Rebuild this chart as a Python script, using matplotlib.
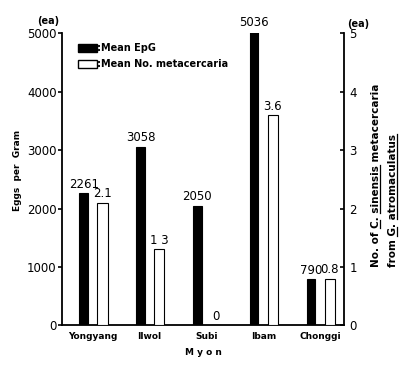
import matplotlib
matplotlib.use("Agg")
import matplotlib.pyplot as plt
from matplotlib.patches import Patch
from matplotlib.lines import Line2D

categories = ["Yongyang", "Ilwol", "Subi", "Ibam", "Chonggi"]
epg = [2261, 3058, 2050, 5036, 790]
meta = [2.1, 1.3, 0, 3.6, 0.8]
epg_labels = ["2261", "3058", "2050", "5036", "790"]
meta_labels = ["2.1", "1 3", "0", "3.6", "0.8"]
left_ticks = [0, 1000, 2000, 3000, 4000, 5000]
right_ticks = [0, 1, 2, 3, 4, 5]

plt.rcParams['font.family'] = ['DejaVu Sans']

fig = plt.figure(figsize=(4.17, 3.68), dpi=100)
ax = fig.add_axes([0.149, 0.1155, 0.676, 0.7945])
ax2 = ax.twinx()

x = list(range(len(categories)))
xb = [i - 0.16 for i in x]
xw = [i + 0.17 for i in x]

ax.bar(xb, epg, width=0.15, color='black', edgecolor='black', linewidth=0.8, zorder=3)
ax2.bar(xw, meta, width=0.18, color='white', edgecolor='black', linewidth=0.8, zorder=3)

for xi, v, s in zip(xb, epg, epg_labels):
    ax.text(xi, v + 40, s, ha='center', va='bottom', fontsize=8.5)
for xi, v, s in zip(xw, meta, meta_labels):
    ax2.text(xi, v + 0.04, s, ha='center', va='bottom', fontsize=8.5)

ax.set_xlim(-0.54, 4.42)
ax.set_ylim(0, 5000)
ax2.set_ylim(0, 5)
ax.set_yticks(left_ticks)
ax2.set_yticks(right_ticks)
ax.set_xticks(x)
ax.set_xticklabels(categories, fontsize=6.5, fontweight='bold')
ax.tick_params(axis='x', length=0, pad=5)
ax.tick_params(axis='y', direction='out', length=3, width=1.2, labelsize=8.5, pad=1)
ax2.tick_params(axis='y', direction='in', length=3, width=1.2, labelsize=8.5, pad=4)

for a in (ax, ax2):
    a.spines['top'].set_visible(False)
    for s in a.spines.values():
        s.set_linewidth(1.3)
ax.spines['right'].set_visible(False)
ax2.spines['left'].set_visible(False)
ax2.spines['bottom'].set_visible(False)

ax.set_xlabel("M y o n", fontsize=6.5, fontweight='bold', labelpad=5)
fig.text(18 / 417, 1 - 170 / 368, "Eggs  per  Gram", rotation=90, fontsize=6.5,
         fontweight='bold', ha='center', va='center')

fig.text(48 / 417, 1 - 21.5 / 368, "(ea)", fontsize=7, fontweight='bold', ha='center', va='center')
fig.text(358 / 417, 1 - 24 / 368, "(ea)", fontsize=7, fontweight='bold', ha='center', va='center')

handles = [Patch(facecolor='black', edgecolor='black'),
           Patch(facecolor='white', edgecolor='black')]
ax.legend(handles, [":Mean EpG", ":Mean No. metacercaria"], loc='upper left',
          bbox_to_anchor=(0.025, 0.995), frameon=False, handlelength=1.95,
          handleheight=0.85, handletextpad=0.0, labelspacing=0.6,
          prop={'size': 7, 'weight': 'bold'})

# right-hand label with underlined words (drawn in pixel coordinates)
fig.canvas.draw()
renderer = fig.canvas.get_renderer()
FS = 7.5


def textw(s):
    t = fig.text(0, 0, s, fontsize=FS, fontweight='bold')
    w = t.get_window_extent(renderer).width
    t.remove()
    return w


def vline_label(xpx, ypx, parts):
    full = "".join(p for p, _ in parts)
    t = fig.text(xpx, ypx, full, transform=None, rotation=90, ha='center', va='bottom',
                 fontsize=FS, fontweight='bold')
    bb = t.get_window_extent(renderer)
    xu = bb.x1 - 1.5
    prefix = ""
    for p, ul in parts:
        if ul:
            end = textw(prefix + p)
            start = end - textw(p)
            fig.add_artist(Line2D([xu, xu], [ypx + start, ypx + end], transform=None,
                                  color='black', linewidth=0.9))
        prefix += p


line1 = [("No. of ", False), ("C", True), (". ", False), ("sinensis", True), (" metacercaria", False)]
line2 = [("from ", False), ("G", True), (". ", False), ("atromaculatus", True)]
vline_label(376, 368 - 267, line1)
vline_label(393, 368 - 267, line2)

fig.savefig("out.png", dpi=100)
